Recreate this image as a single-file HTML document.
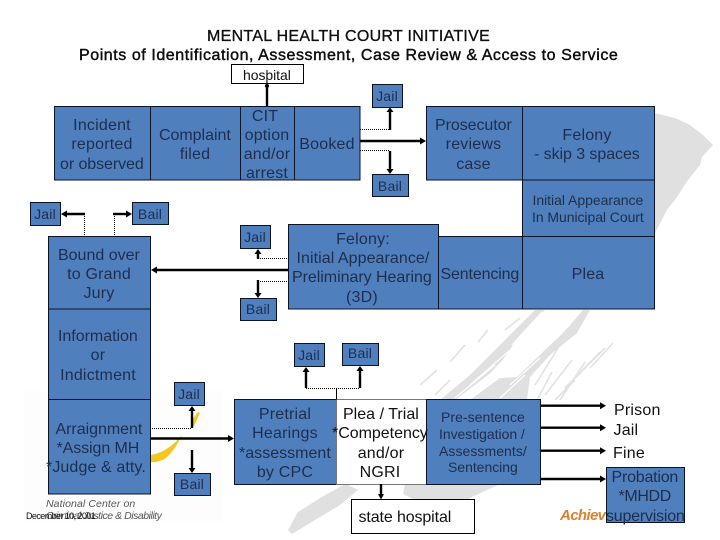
<!DOCTYPE html>
<html><head><meta charset="utf-8"><style>
html,body{margin:0;padding:0;background:#fff}
svg{display:block}
text{font-family:"Liberation Sans",sans-serif;fill:#1f2d4c;font-size:16px;text-anchor:middle;letter-spacing:.2px}
.s{font-size:14px}
.k{fill:#111}
.l{text-anchor:start}
.b{fill:#4f80bd;stroke:#0a1428;stroke-width:1}
.w{fill:#fff;stroke:#000;stroke-width:1}
.t{stroke:#000;stroke-width:2.4;fill:none}
.d{stroke:#000;stroke-width:1;stroke-dasharray:1 1;fill:none}
.g{fill:#e0e0e0}
.a{fill:#000}
.st{stroke:#e2e2e2;fill:none}
.wh{stroke:#fff;fill:none}
</style></head><body>
<svg width="720" height="540" viewBox="0 0 720 540" xmlns="http://www.w3.org/2000/svg">
<!-- background swoosh -->
<path class="g" d="M640 110L655 113L675 118L690 125L703 135L713 145L702 157L700 165L688 180L677 197L667 210L655 233L640 240Z"/>
<path class="g" d="M583 310L590 310L577 333L550 355L530 377L527 400L470 400L500 378L517 377L545 350L563 333Z"/>
<path class="g" d="M535 310L545 310L520 335L497 368L475 385L455 400L440 400L470 375L500 345Z"/>
<g class="wh" stroke-width="1.2">
<path d="M542 312L512 345"/><path d="M528 335L492 372"/><path d="M510 350L470 385"/><path d="M495 365L455 398"/>
<path d="M540 358L510 385"/><path d="M525 375L500 398"/><path d="M570 325L545 345"/>
</g>
<g class="st" stroke-width="1.6">
<path d="M613 343L590 368"/><path d="M600 352L565 388"/><path d="M585 362L560 400"/><path d="M605 348L575 378"/>
<path d="M572 360L545 395"/><path d="M560 345L535 385"/><path d="M575 380L555 400"/><path d="M552 372L538 398"/>
<path d="M437 370L420 385"/><path d="M465 345L450 362"/><path d="M488 330L478 342"/><path d="M435 395L450 380"/>
<path d="M520 318L505 330"/>
</g>
<path class="g" d="M405 484L500 484L470 498L440 512L425 514L415 500L403 494Z"/>
<path class="g" d="M350 486L345 484L320 498L298 512L288 530L292 534L315 520L340 505L358 490Z"/>
<!-- logo -->
<rect x="24" y="390" width="198" height="132" fill="#fdfdfd"/>
<path d="M151 455Q168 452 182 435Q175 450 166 458Q158 463 151 462Z" fill="#f3c622"/>
<path d="M192 420L198 412L200 413L194 426L192 428Z" fill="#f3c622"/>
<text x="46" y="507" class="l" style="font-size:10.5px;font-style:italic;fill:#555;letter-spacing:.1px">National Center on</text>
<text x="46" y="519" class="l" style="font-size:10.5px;font-style:italic;fill:#555;letter-spacing:.1px" textLength="116">Criminal Justice &amp; Disability</text>
<text x="26" y="519" class="l k" style="font-size:9px" textLength="70">December 10, 2001</text>
<text x="560" y="520" class="l" style="font-size:15px;font-weight:bold;font-style:italic;fill:#d9822b;letter-spacing:0" textLength="46">Achiev</text>

<!-- title -->
<text x="348.5" y="41" class="k" textLength="283" style="font-size:16px;stroke:#000;stroke-width:.3">MENTAL HEALTH COURT INITIATIVE</text>
<text x="348.5" y="60" class="k" textLength="539" style="font-size:16px;stroke:#000;stroke-width:.4">Points of Identification, Assessment, Case Review &amp; Access to Service</text>

<!-- boxes -->
<rect class="b" x="54.5" y="106.5" width="96" height="73.5"/>
<rect class="b" x="150.5" y="106.5" width="90" height="73.5"/>
<rect class="b" x="240.5" y="106.5" width="54" height="73.5"/>
<rect class="b" x="294.5" y="106.5" width="65.5" height="73.5"/>
<rect class="b" x="426.5" y="106.5" width="96" height="73.5"/>
<rect class="b" x="522.5" y="106.5" width="132" height="73.5"/>
<rect class="b" x="522.5" y="180" width="132" height="56.5"/>
<rect class="b" x="522.5" y="236.5" width="132" height="72.5"/>
<rect class="b" x="438.5" y="236.5" width="84" height="72.5"/>
<rect class="b" x="288.5" y="224.5" width="150" height="84.5"/>
<rect class="b" x="48.5" y="236.5" width="102" height="72.5"/>
<rect class="b" x="48.5" y="309" width="102" height="90.5"/>
<rect class="b" x="48.5" y="399.5" width="102" height="94.5"/>
<rect class="b" x="30.5" y="202.5" width="30" height="23"/>
<rect class="b" x="132.5" y="202.5" width="36" height="22"/>
<rect class="b" x="240.5" y="225.5" width="30" height="23"/>
<rect class="b" x="240.5" y="298.5" width="36" height="22"/>
<rect class="b" x="372.5" y="84.5" width="30" height="23"/>
<rect class="b" x="372.5" y="174.5" width="36" height="22"/>
<rect class="b" x="294.5" y="343.5" width="30" height="23"/>
<rect class="b" x="342.5" y="343.5" width="36" height="22"/>
<rect class="b" x="174.5" y="382.5" width="30" height="23"/>
<rect class="b" x="174.5" y="473.5" width="36" height="22"/>
<rect class="b" x="234.5" y="399.5" width="102" height="85"/>
<rect x="336.5" y="399.5" width="90" height="85" fill="#fff" stroke="#777" stroke-width="1"/>
<rect class="b" x="426.5" y="399.5" width="114" height="85"/>
<rect class="b" x="606.5" y="467.5" width="78" height="55"/>
<rect class="w" x="231.5" y="64.5" width="72" height="19"/>
<rect class="w" x="351.5" y="499.5" width="123" height="34"/>

<!-- connectors -->
<path class="t" d="M267 106V88"/><circle class="a" cx="267" cy="86" r="2"/><path d="M267 70V86" stroke="#000" stroke-width="1"/>
<path class="d" d="M360 129.5H390"/><path class="t" d="M390 130V111"/><path class="a" d="M390 107.5L393.5 112H386.5Z"/>
<path class="t" d="M360 141H422"/><path class="a" d="M426 141L420 137.5V144.5Z"/>
<path class="d" d="M360 150.5H390"/><path class="t" d="M390 151V170"/><path class="a" d="M390 174L386.5 169H393.5Z"/>
<path class="t" d="M85 214H64"/><path class="a" d="M61 214L67 210.5V217.5Z"/><path class="d" d="M84.5 214V236"/>
<path class="t" d="M113 214H129"/><path class="a" d="M132 214L126 210.5V217.5Z"/><path class="d" d="M114.5 214V236"/>
<path class="d" d="M258 258.5H288"/><path class="t" d="M258 259V252"/><path class="a" d="M258 249L261.5 254H254.5Z"/>
<path class="t" d="M288 270H155"/><path class="a" d="M151 270L157 266.5V273.5Z"/>
<path class="d" d="M258 281.5H288"/><path class="t" d="M258 280V295"/><path class="a" d="M258 298L254.5 293H261.5Z"/>
<path class="t" d="M306 388V370"/><path class="a" d="M306 367L309.5 372H302.5Z"/>
<path class="t" d="M360 388V370"/><path class="a" d="M360 366L363.5 371H356.5Z"/>
<path class="d" d="M306 388.5H360"/><path d="M336.5 388V399.5" stroke="#000" stroke-width="1"/>
<path class="t" d="M192 428V409"/><path class="a" d="M192 406L195.5 411H188.5Z"/><path class="d" d="M152 428.5H192"/>
<path class="t" d="M151 438.5H230"/><path class="a" d="M234 438.5L228 435V442Z"/>
<path class="t" d="M192 450V470"/><path class="a" d="M192 473L188.5 468H195.5Z"/>
<path class="t" d="M381 484V497"/><path class="a" d="M381 499.5L378 494H384Z"/>
<path class="t" d="M541 405.7H601"/><path class="a" d="M606 405.7L600 402.2V409.2Z"/>
<path class="t" d="M541 427.7H601"/><path class="a" d="M606 427.7L600 424.2V431.2Z"/>
<path class="t" d="M541 450.7H601"/><path class="a" d="M606 450.7L600 447.2V454.2Z"/>
<path class="t" d="M541 479H601"/><path class="a" d="M606 479L600 475.5V482.5Z"/>

<!-- labels -->
<text x="102" y="130">Incident</text><text x="102" y="149">reported</text><text x="102" y="169" textLength="84">or observed</text>
<text x="195" y="140" textLength="72">Complaint</text><text x="195" y="159">filed</text>
<text x="265" y="121">CIT</text><text x="267" y="140">option</text><text x="267" y="159">and/or</text><text x="267" y="178">arrest</text>
<text x="327" y="149">Booked</text>
<text x="473.5" y="130" textLength="77">Prosecutor</text><text x="473.5" y="149">reviews</text><text x="473.5" y="169">case</text>
<text x="587" y="140">Felony</text><text x="587" y="159" textLength="106">- skip 3 spaces</text>
<text x="588" y="205" class="s" textLength="111">Initial Appearance</text><text x="588" y="222" class="s" textLength="112">In Municipal Court</text>
<text x="480" y="279" textLength="79">Sentencing</text><text x="588" y="279">Plea</text>
<text x="363" y="244">Felony:</text><text x="363" y="263" textLength="133">Initial Appearance/</text><text x="362" y="282" textLength="140">Preliminary Hearing</text><text x="362" y="302">(3D)</text>
<text x="99" y="260" textLength="82">Bound over</text><text x="99" y="279">to Grand</text><text x="99" y="298">Jury</text>
<text x="98" y="341" textLength="80">Information</text><text x="98" y="360">or</text><text x="98" y="380">Indictment</text>
<text x="99" y="434" textLength="87">Arraignment</text><text x="98" y="453" textLength="83">*Assign MH</text><text x="96" y="472" textLength="100">*Judge &amp; atty.</text>
<text x="285" y="419">Pretrial</text><text x="285" y="438">Hearings</text><text x="285" y="458" textLength="92">*assessment</text><text x="285" y="477">by CPC</text>
<text x="381" y="419" textLength="76" class="k">Plea / Trial</text><text x="380" y="438" textLength="96" class="k">*Competency</text><text x="381" y="458" class="k">and/or</text><text x="380" y="477" class="k">NGRI</text>
<text x="483" y="422" class="s" textLength="84">Pre-sentence</text><text x="482" y="439" class="s" textLength="86">Investigation /</text><text x="483" y="456" class="s" textLength="88">Assessments/</text><text x="483" y="472" class="s" textLength="70">Sentencing</text>
<text x="405" y="522" textLength="93" class="k">state hospital</text>
<text x="614" y="415" class="l k">Prison</text><text x="613.5" y="435" class="l k">Jail</text><text x="613" y="458" class="l k">Fine</text>
<text x="645" y="482" textLength="67">Probation</text><text x="645" y="501" textLength="53">*MHDD</text><text x="645.5" y="521" textLength="79">supervision</text>
<text x="45" y="219" class="s">Jail</text><text x="150" y="219" class="s">Bail</text>
<text x="255" y="242" class="s">Jail</text><text x="258" y="314" class="s">Bail</text>
<text x="267" y="80" class="s k" textLength="48">hospital</text>
<text x="387" y="101" class="s">Jail</text><text x="390" y="191" class="s">Bail</text>
<text x="309" y="360" class="s">Jail</text><text x="360" y="358" class="s">Bail</text>
<text x="189" y="399" class="s">Jail</text><text x="192" y="489" class="s">Bail</text>
</svg>
</body></html>
